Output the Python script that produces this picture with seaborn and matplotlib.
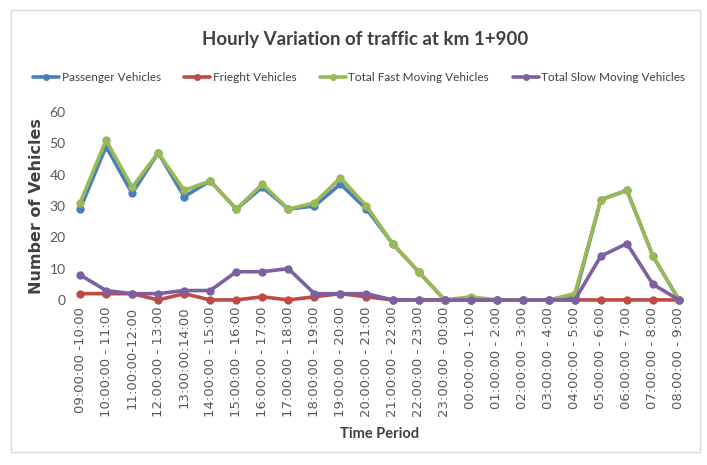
import pandas as pd
import numpy as np
import matplotlib
matplotlib.use('Agg')
import matplotlib.pyplot as plt
import seaborn as sns

# time slots on the x axis (as printed in the chart)
periods = [
    "09:00:00 -10:00", "10:00:00 - 11:00", "11:00:00-12:00", "12:00:00 - 13:00",
    "13:00:00:14:00", "14:00:00 - 15:00", "15:00:00 - 16:00", "16:00:00 - 17:00",
    "17:00:00 - 18:00", "18:00:00 - 19:00", "19:00:00 - 20:00", "20:00:00 - 21:00",
    "21:00:00 - 22:00", "22:00:00 - 23:00", "23:00:00 - 00:00", "00:00:00 - 1:00",
    "01:00:00 - 2:00", "02:00:00 - 3:00", "03:00:00 - 4:00", "04:00:00 - 5:00",
    "05:00:00 - 6:00", "06:00:00 - 7:00", "07:00:00 - 8:00", "08:00:00 - 9:00",
]

passenger = [29, 49, 34, 47, 33, 38, 29, 36, 29, 30, 37, 29, 18, 9, 0, 0, 0, 0, 0, 1, 32, 35, 14, 0]
freight = [2, 2, 2, 0, 2, 0, 0, 1, 0, 1, 2, 1, 0, 0, 0, 0, 0, 0, 0, 0, 0, 0, 0, 0]
fast_total = [31, 51, 36, 47, 35, 38, 29, 37, 29, 31, 39, 30, 18, 9, 0, 1, 0, 0, 0, 2, 32, 35, 14, 0]
slow_total = [8, 3, 2, 2, 3, 3, 9, 9, 10, 2, 2, 2, 0, 0, 0, 0, 0, 0, 0, 0, 14, 18, 5, 0]

series_names = ["Passenger Vehicles", "Frieght Vehicles",
                "Total Fast Moving Vehicles", "Total Slow Moving Vehicles"]
colors = ["#4A7EBB", "#BE4B48", "#98B954", "#7D60A0"]

sns.set_theme(style="white")
plt.rcParams['font.family'] = ['Lato', 'DejaVu Sans']

# long format table for seaborn
rows = []
for name, vals in zip(series_names, [passenger, freight, fast_total, slow_total]):
    for i, v in enumerate(vals):
        rows.append({"idx": i, "value": v, "series": name})
df = pd.DataFrame(rows)

fig = plt.figure(figsize=(7.07, 4.65), dpi=100)
ax = fig.add_axes([0.0948, 0.355, 0.884, 0.404])

sns.lineplot(data=df, x="idx", y="value", hue="series", hue_order=series_names,
             palette=colors, marker="o", markersize=6, markeredgewidth=0,
             linewidth=2.6, sort=False, legend=False, ax=ax)

ax.set_xlim(-0.5, len(periods) - 0.5)
ax.set_ylim(0, 60)
ax.set_yticks(range(0, 61, 10))
ax.set_xticks(range(len(periods)))
ax.set_xticklabels(periods, rotation=90, fontsize=9.5, color="#595959",
                   family=['DejaVu Sans'])
ax.tick_params(axis="y", labelsize=10, colors="#595959", length=0, pad=1)
ax.tick_params(axis="x", length=0, pad=5)
for ln in ax.lines:
    ln.set_clip_on(False)
for s in ax.spines.values():
    s.set_visible(False)

ax.set_ylabel("Number of Vehicles", fontsize=11.5, fontweight="bold", color="#404040",
              family=['DejaVu Sans'], labelpad=4)
ax.set_xlabel("Time Period", fontsize=10.5, fontweight="bold", color="#404040", labelpad=7)

fig.text(0.517, 0.915, "Hourly Variation of traffic at km 1+900", ha="center", va="center",
         fontsize=13.5, fontweight="bold", color="#404040")

handles = [plt.Line2D([], [], color=c, marker="o", markersize=4, linewidth=2.6) for c in colors]
fig.legend(handles, series_names, loc="center", bbox_to_anchor=(0.508, 0.833), ncol=4,
           frameon=False, fontsize=8.5, handlelength=2.2, handletextpad=0.2, columnspacing=2.0,
           labelcolor="#404040")

# light outer border like the exported chart
border = plt.Rectangle((0.015, 0.028), 0.975, 0.95, transform=fig.transFigure,
                       fill=False, edgecolor="#D9D9D9", linewidth=1)
fig.patches.append(border)

fig.savefig("out.png", dpi=100)
